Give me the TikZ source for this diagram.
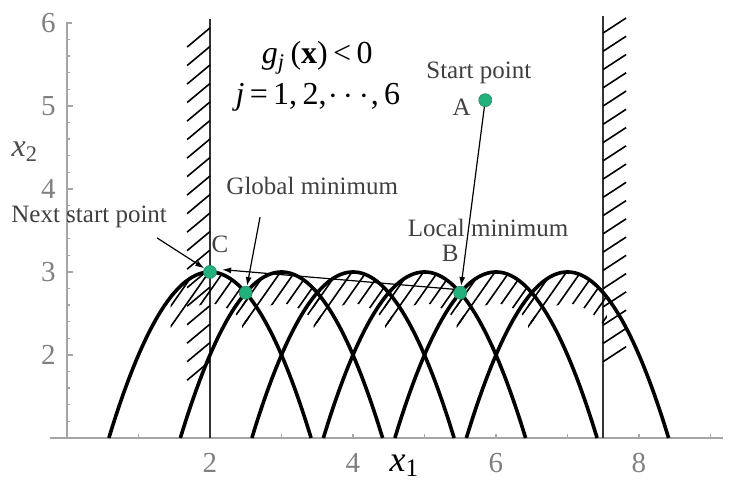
\documentclass[tikz,border=0pt]{standalone}
\usepackage{fontspec}
\setmainfont{Liberation Serif}
\usetikzlibrary{arrows.meta}
\definecolor{dotgreen}{RGB}{36,176,122}
\definecolor{axisgray}{RGB}{165,165,165}

\begin{document}
\begin{tikzpicture}[x=35.75pt,y=41.5pt,
  curve/.style={line width=1.8pt,line join=round},
  wall/.style={line width=1.1pt,black!80},
  hatchline/.style={line width=.8pt},
  axisline/.style={axisgray,line width=1.1pt},
  tickmark/.style={axisgray,line width=.7pt},
  dot/.style={circle,fill=dotgreen,draw=dotgreen!80!black,line width=.3pt,inner sep=0pt,minimum size=6.5pt},
  conn/.style={line width=.6pt,-{Latex[length=4.5pt,width=3pt]}},
  lbl/.style={text=black!75,font=\fontsize{12.5}{14}\selectfont,inner sep=1pt},
  ticklbl/.style={text=black!50,font=\fontsize{14.5}{15}\selectfont,inner sep=0pt},
  mathlbl/.style={font=\fontsize{16}{18}\selectfont,inner sep=1pt}]
\path[use as bounding box] (-0.937,0.482) rectangle (9.343,6.277);

\draw[axisline] (-0.24,1) -- (9.17,1);
\draw[axisline] (0,1) -- (0,6) -- (0.07,6);
\foreach \t in {1,...,24} \draw[tickmark] (0,1+0.2*\t) -- (0.04,1+0.2*\t);
\foreach \t in {2,...,5} \draw[tickmark] (0,\t) -- (0.08,\t);
\foreach \t in {1,...,9} \draw[tickmark] (\t,1) -- (\t,1.05);
\foreach \v in {2,...,6} \node[ticklbl] (ty\v) at (-0.26,\v) {\v};
\foreach \v in {2,4,6,8} \node[ticklbl] (tx\v) at (\v,0.70) {\v};
\node[font=\fontsize{16}{16}\selectfont,text=black!70] (xtwo) at (-0.59,4.45) {\textit{x}\textsubscript{2}};
\node[font=\fontsize{18}{18}\selectfont,inner sep=0pt] (xone) at (4.72,0.67) {\textit{x}\textsubscript{1}};

\draw[wall] (2,1) -- (2,6.05);
\foreach \k in {0,...,18} \draw[hatchline] (2,5.94-0.223*\k) -- (1.68,5.71-0.223*\k);
\draw[wall] (7.5,1) -- (7.5,6.08);
\foreach \k in {0,...,18} \draw[hatchline] (7.5,5.88-0.22*\k) -- (7.82,6.06-0.22*\k);

\foreach \c in {2,...,7}{
  \begin{scope}
    \clip plot[domain=\c-0.55:\c+0.55,samples=12] (\x,{3-(\x-\c)*(\x-\c)})
      -- plot[domain=\c+0.55:\c-0.55,samples=12] (\x,{2.62-(\x-\c)*(\x-\c)}) -- cycle;
    \foreach \s in {-5,...,5} \draw[hatchline] (\c+0.2*\s+0.35,3.2) -- (\c+0.2*\s-0.4,2.28);
  \end{scope}
}
\foreach \c in {2,...,7} \draw[curve] plot[domain=\c-1.4142:\c+1.4142,samples=41,smooth] (\x,{3-(\x-\c)*(\x-\c)});

\node[dot] (A) at (5.85,5.07) {};
\node[dot] (B) at (5.5,2.75) {};
\node[dot] (G) at (2.5,2.75) {};
\node[dot] (C) at (2,3) {};

\node[mathlbl] (gjlbl) at (3.50,5.58) {\textit{g}\textsubscript{\textit{j}}\,(\textbf{x})\,<\,0};
\node[mathlbl] (jlbl) at (3.51,5.10) {\textit{j}\,=\,1,\,2,\kern1pt$\cdots$\kern1pt,\,6};
\node[lbl] (startlbl) at (5.76,5.40) {Start point};
\node[lbl] (alabel) at (5.52,4.98) {A};
\node[lbl] (locallbl) at (5.89,3.53) {Local minimum};
\node[lbl] (blabel) at (5.36,3.22) {B};
\node[lbl] (globallbl) at (3.43,4.04) {Global minimum};
\node[lbl] (clabel) at (2.14,3.33) {C};
\node[lbl] (nextlbl) at (0.31,3.66) {Next start point};

\coordinate (gtail) at (2.70,3.66);
\coordinate (ntail) at (1.26,3.41);
\draw[conn] (A) -- (B);
\draw[conn,shorten >=3pt] (B.150) -- (C.25);
\draw[conn] (gtail) -- (G);
\draw[conn] (ntail) -- (C);
\end{tikzpicture}
\end{document}
